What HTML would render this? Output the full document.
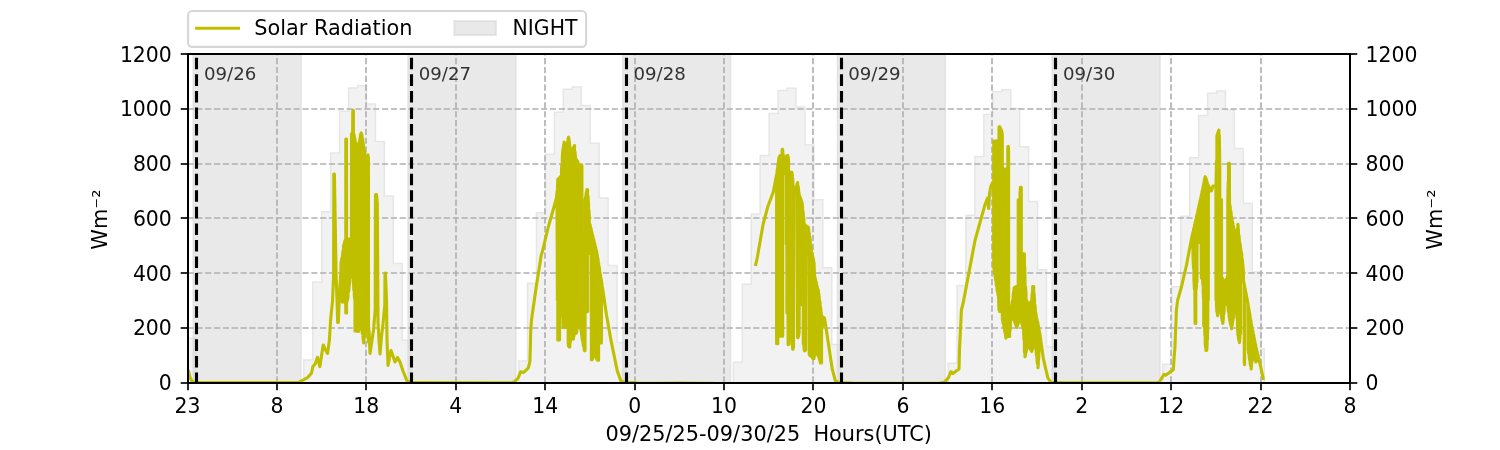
<!DOCTYPE html>
<html lang="en"><head><meta charset="utf-8"><title>Solar Radiation</title>
<style>html,body{margin:0;padding:0;background:#fff}body{width:1500px;height:450px;overflow:hidden}svg{display:block}</style>
</head><body>
<svg width="1500" height="450" viewBox="0 0 1500 450" font-family="'DejaVu Sans', 'Liberation Sans', sans-serif" font-size="20.4px" fill="#000">
<rect width="1500" height="450" fill="#fff"/>
<defs><clipPath id="ax"><rect x="187.5" y="54.0" width="1162.5" height="328.5"/></clipPath></defs>
<g clip-path="url(#ax)">
<path d="M184.50,385.5L184.50,338.15L196.45,338.15L196.45,385.5Z" fill="#f2f2f2" stroke="#e6e6e6" stroke-width="1.5"/>
<path d="M303.82,385.5L303.82,360.05L312.77,360.05L312.77,282.03L321.72,282.03L321.72,211.68L330.67,211.68L330.67,153.10L339.62,153.10L339.62,111.21L348.56,111.21L348.56,87.94L357.51,87.94L357.51,85.48L366.46,85.48L366.46,104.10L375.41,104.10L375.41,141.60L384.36,141.60L384.36,196.08L393.30,196.08L393.30,263.42L402.25,263.42L402.25,340.34L411.20,340.34L411.20,385.5Z" fill="#f2f2f2" stroke="#e6e6e6" stroke-width="1.5"/>
<path d="M518.58,385.5L518.58,361.11L527.52,361.11L527.52,283.20L536.47,283.20L536.47,212.84L545.42,212.84L545.42,154.26L554.37,154.26L554.37,112.31L563.32,112.31L563.32,89.25L572.26,89.25L572.26,86.88L581.21,86.88L581.21,105.60L590.16,105.60L590.16,143.31L599.11,143.31L599.11,197.92L608.06,197.92L608.06,265.54L617.00,265.54L617.00,342.46L625.95,342.46L625.95,385.5Z" fill="#f2f2f2" stroke="#e6e6e6" stroke-width="1.5"/>
<path d="M733.33,385.5L733.33,362.17L742.28,362.17L742.28,284.36L751.22,284.36L751.22,214.01L760.17,214.01L760.17,155.42L769.12,155.42L769.12,113.40L778.07,113.40L778.07,90.55L787.02,90.55L787.02,88.29L795.96,88.29L795.96,107.11L804.91,107.11L804.91,145.02L813.86,145.02L813.86,199.77L822.81,199.77L822.81,267.66L831.76,267.66L831.76,344.59L840.70,344.59L840.70,385.5Z" fill="#f2f2f2" stroke="#e6e6e6" stroke-width="1.5"/>
<path d="M948.08,385.5L948.08,363.23L957.03,363.23L957.03,285.52L965.98,285.52L965.98,215.17L974.92,215.17L974.92,156.59L983.87,156.59L983.87,114.50L992.82,114.50L992.82,91.85L1001.77,91.85L1001.77,89.69L1010.72,89.69L1010.72,108.61L1019.66,108.61L1019.66,146.73L1028.61,146.73L1028.61,201.62L1037.56,201.62L1037.56,269.78L1046.51,269.78L1046.51,346.71L1055.46,346.71L1055.46,385.5Z" fill="#f2f2f2" stroke="#e6e6e6" stroke-width="1.5"/>
<path d="M1162.83,385.5L1162.83,364.30L1171.78,364.30L1171.78,286.69L1180.73,286.69L1180.73,216.33L1189.68,216.33L1189.68,157.75L1198.62,157.75L1198.62,115.59L1207.57,115.59L1207.57,93.15L1216.52,93.15L1216.52,91.09L1225.47,91.09L1225.47,110.12L1234.42,110.12L1234.42,148.44L1243.36,148.44L1243.36,203.47L1252.31,203.47L1252.31,271.90L1261.26,271.90L1261.26,348.83L1264.30,348.83L1264.30,385.5Z" fill="#f2f2f2" stroke="#e6e6e6" stroke-width="1.5"/>
<rect x="193.20" y="49.0" width="107.90" height="338.5" fill="#d3d3d3" fill-opacity="0.5" stroke="#d3d3d3" stroke-opacity="0.5" stroke-width="1.5"/>
<rect x="407.95" y="49.0" width="107.90" height="338.5" fill="#d3d3d3" fill-opacity="0.5" stroke="#d3d3d3" stroke-opacity="0.5" stroke-width="1.5"/>
<rect x="622.70" y="49.0" width="107.90" height="338.5" fill="#d3d3d3" fill-opacity="0.5" stroke="#d3d3d3" stroke-opacity="0.5" stroke-width="1.5"/>
<rect x="837.45" y="49.0" width="107.90" height="338.5" fill="#d3d3d3" fill-opacity="0.5" stroke="#d3d3d3" stroke-opacity="0.5" stroke-width="1.5"/>
<rect x="1052.20" y="49.0" width="107.90" height="338.5" fill="#d3d3d3" fill-opacity="0.5" stroke="#d3d3d3" stroke-opacity="0.5" stroke-width="1.5"/>
<line x1="277.00" x2="277.00" y1="382.5" y2="54.0" stroke="#b0b0b0" stroke-width="1.67" stroke-dasharray="6.17 2.67"/>
<line x1="366.00" x2="366.00" y1="382.5" y2="54.0" stroke="#b0b0b0" stroke-width="1.67" stroke-dasharray="6.17 2.67"/>
<line x1="456.00" x2="456.00" y1="382.5" y2="54.0" stroke="#b0b0b0" stroke-width="1.67" stroke-dasharray="6.17 2.67"/>
<line x1="545.00" x2="545.00" y1="382.5" y2="54.0" stroke="#b0b0b0" stroke-width="1.67" stroke-dasharray="6.17 2.67"/>
<line x1="635.00" x2="635.00" y1="382.5" y2="54.0" stroke="#b0b0b0" stroke-width="1.67" stroke-dasharray="6.17 2.67"/>
<line x1="724.00" x2="724.00" y1="382.5" y2="54.0" stroke="#b0b0b0" stroke-width="1.67" stroke-dasharray="6.17 2.67"/>
<line x1="813.00" x2="813.00" y1="382.5" y2="54.0" stroke="#b0b0b0" stroke-width="1.67" stroke-dasharray="6.17 2.67"/>
<line x1="903.00" x2="903.00" y1="382.5" y2="54.0" stroke="#b0b0b0" stroke-width="1.67" stroke-dasharray="6.17 2.67"/>
<line x1="992.00" x2="992.00" y1="382.5" y2="54.0" stroke="#b0b0b0" stroke-width="1.67" stroke-dasharray="6.17 2.67"/>
<line x1="1082.00" x2="1082.00" y1="382.5" y2="54.0" stroke="#b0b0b0" stroke-width="1.67" stroke-dasharray="6.17 2.67"/>
<line x1="1171.00" x2="1171.00" y1="382.5" y2="54.0" stroke="#b0b0b0" stroke-width="1.67" stroke-dasharray="6.17 2.67"/>
<line x1="1261.00" x2="1261.00" y1="382.5" y2="54.0" stroke="#b0b0b0" stroke-width="1.67" stroke-dasharray="6.17 2.67"/>
<line x1="187.5" x2="1350.0" y1="328" y2="328" stroke="#b0b0b0" stroke-width="1.67" stroke-dasharray="6.17 2.67"/>
<line x1="187.5" x2="1350.0" y1="273" y2="273" stroke="#b0b0b0" stroke-width="1.67" stroke-dasharray="6.17 2.67"/>
<line x1="187.5" x2="1350.0" y1="218" y2="218" stroke="#b0b0b0" stroke-width="1.67" stroke-dasharray="6.17 2.67"/>
<line x1="187.5" x2="1350.0" y1="164" y2="164" stroke="#b0b0b0" stroke-width="1.67" stroke-dasharray="6.17 2.67"/>
<line x1="187.5" x2="1350.0" y1="109" y2="109" stroke="#b0b0b0" stroke-width="1.67" stroke-dasharray="6.17 2.67"/>
<path d="M187.5,369.0L189.0,372.5L190.0,377.5L191.5,380.5L194.0,382.3L200.0,382.6L296.0,382.5L299.0,382.2L302.0,380.6L307.7,377.5L311.6,373.0L312.8,366.7L315.4,363.5L317.5,357.3L319.8,366.7L323.2,345.0L325.0,349.0L327.6,353.4L329.4,340.0L330.6,320.0L332.5,301.7L333.6,275.0L333.8,174.0L334.4,174.0L336.1,275.0L337.0,300.0L337.7,322.5L338.3,322.5L339.0,305.0L340.0,285.0L340.9,272.0L341.0,262.0L341.0,300.0L341.5,300.7L341.5,260.0L342.0,258.0L342.0,301.3L342.5,302.0L342.5,256.0L343.0,251.0L343.0,302.0L343.5,302.0L343.5,246.0L344.0,244.2L344.0,302.0L344.5,302.0L344.5,242.5L345.0,240.8L345.0,302.0L345.5,302.0L345.5,239.0L345.7,239.0L345.7,302.0L345.8,313.0L345.8,139.0L346.1,139.0L346.1,313.0L346.5,313.0L346.5,139.0L346.6,239.0L346.6,302.0L347.1,301.0L347.1,239.0L347.5,239.0L347.5,300.0L348.0,296.0L348.0,239.0L348.5,239.0L348.5,292.0L349.0,288.0L349.0,239.0L349.4,239.0L349.4,284.7L349.8,281.3L349.8,239.0L350.2,239.0L350.2,278.0L350.6,275.3L350.6,239.0L351.0,239.0L351.0,272.7L351.4,270.0L351.4,239.0L351.5,133.5L351.5,268.0L351.9,266.2L351.9,133.5L352.2,133.5L352.2,264.5L352.6,268.0L352.6,133.0L352.8,110.5L352.8,272.0L353.1,276.0L353.1,110.5L353.4,110.5L353.4,280.0L353.8,290.0L353.8,134.0L354.3,136.0L354.3,295.0L354.8,300.0L354.8,138.0L355.0,141.0L355.0,331.0L355.5,331.0L355.5,142.2L356.0,143.5L356.0,331.0L356.5,331.1L356.5,143.9L357.0,144.3L357.0,331.2L357.5,331.3L357.5,144.7L358.0,145.1L358.0,331.4L358.5,331.5L358.5,145.5L359.0,143.2L359.0,329.8L359.5,328.0L359.5,141.0L359.9,138.7L359.9,327.3L360.3,326.7L360.3,136.3L360.7,134.0L360.7,326.0L361.0,326.0L361.0,133.5L361.3,133.0L361.3,326.0L361.6,328.0L361.6,134.0L362.0,135.0L362.0,330.0L362.5,334.0L362.5,138.5L363.0,142.0L363.0,338.0L363.3,340.5L363.3,144.0L363.6,146.0L363.6,343.0L363.9,340.5L363.9,148.0L364.2,150.0L364.2,338.0L364.6,335.0L364.6,153.0L364.9,156.8L364.9,331.5L365.2,328.0L365.2,160.5L365.6,160.5L365.6,327.3L365.9,326.7L365.9,160.5L366.3,160.5L366.3,326.0L366.6,326.5L366.6,158.8L367.0,157.0L367.0,327.0L367.5,331.0L367.5,156.0L368.0,155.0L368.0,335.0L368.4,340.0L368.4,157.0L368.5,300.0L368.5,342.0L369.0,330.0L370.0,353.5L371.0,347.0L372.0,340.0L373.5,330.0L375.2,310.0L375.5,194.5L376.5,194.5L377.3,203.0L377.6,250.0L378.0,322.0L379.0,340.0L380.0,354.0L381.5,336.0L383.0,324.0L384.8,305.0L385.0,273.0L385.4,273.0L386.5,300.0L387.0,340.0L388.0,365.5L389.5,358.0L391.0,350.5L393.0,356.0L395.0,362.0L397.5,357.5L400.0,362.0L403.0,371.0L407.0,381.0L411.0,382.5L420.0,382.5L508.0,382.7L512.0,382.5L514.3,381.8L518.2,378.0L520.6,371.8L523.7,372.5L528.3,367.9L529.9,361.7L530.4,345.0L530.7,330.6L531.5,320.0L532.2,315.0L536.1,287.7L541.1,256.0L541.6,253.8L542.3,252.0L548.0,228.0L554.8,204.0L556.5,198.0L557.0,192.0L557.4,300.0L557.4,190.0L557.8,179.0L557.8,339.9L558.2,339.9L558.2,178.9L558.6,178.7L558.6,339.9L559.0,339.9L559.0,178.6L559.4,178.1L559.4,339.9L559.5,339.9L559.5,177.9L559.8,177.5L559.8,315.5L560.2,315.5L560.2,177.0L560.4,176.5L560.4,315.5L560.8,315.5L560.8,176.2L561.2,176.0L561.2,315.5L561.5,315.5L561.5,170.5L561.8,165.0L561.8,315.5L562.3,315.5L562.3,157.5L562.8,150.0L562.8,315.5L563.1,326.6L563.1,148.3L563.1,148.0L563.1,326.8L563.5,327.5L563.5,146.0L563.8,144.1L563.8,327.5L564.1,327.5L564.1,142.1L564.6,143.4L564.6,327.5L565.0,327.5L565.0,144.7L565.5,146.0L565.5,327.5L565.9,327.5L565.9,146.5L566.2,147.0L566.2,327.5L566.6,327.5L566.6,146.5L567.0,146.0L567.0,327.5L567.4,327.7L567.4,143.7L567.7,141.3L567.7,327.8L568.1,328.0L568.1,139.0L568.2,138.0L568.2,344.0L568.5,346.0L568.5,137.1L568.9,139.1L568.9,346.4L569.2,346.9L569.2,141.0L569.5,143.5L569.5,346.9L569.8,346.9L569.8,146.0L570.1,147.5L570.1,343.4L570.5,340.0L570.5,149.0L571.0,149.2L571.0,339.0L571.5,338.0L571.5,149.5L572.0,149.2L572.0,338.0L572.5,338.0L572.5,149.0L573.0,148.5L573.0,338.6L573.4,339.2L573.4,148.0L573.8,147.0L573.8,336.6L574.3,334.0L574.3,146.0L574.5,145.5L574.5,334.0L575.0,333.8L575.0,151.8L575.5,158.0L575.5,333.5L576.0,333.2L576.0,159.0L576.5,160.0L576.5,332.9L576.9,330.4L576.9,160.5L577.3,161.0L577.3,328.0L577.8,327.0L577.8,161.5L578.2,164.2L578.2,326.9L578.6,326.7L578.6,167.0L579.0,167.8L579.0,326.7L579.3,326.7L579.3,168.5L579.8,168.2L579.8,327.4L580.3,328.0L580.3,168.0L580.8,165.4L580.8,329.0L581.2,331.3L581.2,165.4L581.5,165.4L581.5,333.7L581.9,336.0L581.9,165.4L582.0,265.0L582.0,338.0L582.5,340.7L582.5,265.0L583.0,265.0L583.0,343.3L583.5,346.0L583.5,265.0L584.0,265.0L584.0,348.4L584.5,350.8L584.5,265.0L585.0,265.0L585.0,350.8L585.1,311.8L585.1,200.0L585.5,197.4L585.5,311.8L586.0,311.8L586.0,194.8L586.4,192.1L586.4,311.8L586.8,311.8L586.8,189.5L587.1,189.5L587.1,311.8L587.4,311.8L587.4,189.5L587.5,189.5L587.5,253.5L588.0,253.5L588.0,196.0L588.5,203.0L588.5,253.5L588.9,253.5L588.9,210.0L589.3,217.0L589.3,253.5L589.8,253.5L589.8,224.0L590.3,226.0L590.3,253.5L590.8,253.5L590.8,228.0L591.1,229.0L591.1,311.8L591.3,311.8L591.3,230.0L591.4,230.4L591.4,359.8L591.7,359.8L591.7,231.6L592.0,232.8L592.0,359.8L592.5,358.6L592.5,234.8L593.0,236.8L593.0,357.5L593.5,356.3L593.5,238.9L594.0,240.9L594.0,355.2L594.5,354.0L594.5,242.9L595.0,244.8L595.0,355.0L595.4,356.0L595.4,246.6L595.9,248.5L595.9,357.0L596.3,358.0L596.3,250.3L596.8,252.2L596.8,359.0L597.1,359.6L597.1,254.3L597.5,256.5L597.5,360.2L597.9,360.2L597.9,258.8L598.2,261.1L598.2,360.2L598.6,360.2L598.6,263.4L598.7,264.0L598.7,343.0L599.2,343.0L599.2,266.8L599.6,269.6L599.6,343.0L600.0,343.0L600.0,272.4L600.5,275.2L600.5,343.0L601.0,343.0L601.0,278.0L601.4,280.8L601.4,343.0L601.5,300.0L601.5,281.4L602.0,284.6L602.0,297.0L602.5,294.0L602.5,287.8L603.0,291.0L606.5,315.0L611.2,341.4L617.3,371.0L620.9,381.0L624.5,382.5L632.0,382.5L640.0,383.3L660.0,383.2L680.0,383.1L700.0,383.2L714.0,383.4" fill="none" stroke="#bfbf00" stroke-width="3.125" stroke-linejoin="round" stroke-linecap="butt"/>
<path d="M755.4,266.0L757.2,258.0L763.1,224.2L768.0,206.0L773.2,192.3L775.0,183.0L776.5,175.0L776.6,174.5L776.6,343.8L777.0,343.8L777.0,172.0L777.4,169.0L777.4,343.8L777.8,343.8L777.8,166.0L778.2,163.0L778.2,336.1L778.6,336.1L778.6,160.2L779.0,157.5L779.0,336.1L779.5,336.1L779.5,156.6L780.0,155.7L780.0,336.1L780.5,336.1L780.5,155.7L780.9,155.7L780.9,336.1L781.3,336.1L781.3,155.7L781.8,155.7L781.8,336.1L782.1,336.1L782.1,149.4L782.6,149.4L782.6,336.1L782.7,336.1L782.7,150.5L782.8,151.6L782.8,244.5L782.9,173.5L782.9,152.7L783.2,156.0L783.2,173.5L783.3,173.5L783.3,156.1L783.7,156.6L783.7,173.5L784.2,173.5L784.2,157.0L784.6,157.5L784.6,173.5L785.1,173.5L785.1,157.2L785.5,156.8L785.5,173.5L786.0,173.5L786.0,156.5L786.4,156.2L786.4,244.5L786.4,244.5L786.4,156.2L786.9,155.9L786.9,244.5L786.9,313.0L786.9,155.9L787.3,155.6L787.3,313.0L787.7,313.0L787.7,155.3L788.0,156.0L788.0,313.0L788.1,344.6L788.1,156.5L788.5,160.0L788.5,344.6L789.0,344.0L789.0,172.4L789.5,172.4L789.5,339.0L790.0,334.0L790.0,172.4L790.5,172.4L790.5,329.0L791.0,332.7L791.0,172.4L791.4,172.4L791.4,336.3L791.9,340.0L791.9,172.4L792.3,175.2L792.3,344.6L792.7,349.3L792.7,178.0L793.0,185.5L793.0,349.3L793.5,347.1L793.5,187.1L793.5,187.3L793.5,346.9L794.0,194.5L794.0,188.7L794.5,188.7L794.5,194.5L795.0,194.5L795.0,188.7L795.5,188.7L795.5,194.5L796.0,194.5L796.0,187.3L796.5,186.0L796.5,194.5L796.9,194.5L796.9,184.8L797.2,183.7L797.2,194.5L797.5,336.8L797.5,183.0L797.6,182.5L797.6,337.6L798.1,337.6L798.1,186.0L798.5,189.0L798.5,336.1L798.8,334.5L798.8,192.0L799.1,194.2L799.1,333.4L799.2,304.5L799.2,195.0L799.7,196.2L799.7,304.5L800.2,304.5L800.2,197.5L800.7,198.8L800.7,304.5L801.2,304.5L801.2,200.0L801.6,201.2L801.6,304.5L802.0,304.5L802.0,202.4L802.5,206.8L802.5,304.5L803.0,304.5L803.0,211.1L803.3,214.2L803.3,343.6L803.4,344.5L803.4,215.5L803.9,219.8L803.9,347.6L804.4,350.8L804.4,224.2L804.8,224.6L804.8,350.8L805.1,350.8L805.1,225.0L805.6,225.4L805.6,350.1L805.6,350.1L805.6,225.4L806.0,225.8L806.0,253.5L806.5,253.5L806.5,226.1L807.0,226.5L807.0,253.5L807.4,253.5L807.4,226.8L807.9,227.0L807.9,253.5L808.3,253.5L808.3,227.3L808.8,230.4L808.8,253.5L809.2,354.5L809.2,232.9L809.3,233.6L809.3,354.7L809.8,355.5L809.8,236.7L810.3,240.4L810.3,355.8L810.7,356.1L810.7,244.1L811.2,247.9L811.2,356.4L811.6,356.7L811.6,251.6L812.1,255.3L812.1,357.0L812.5,357.8L812.5,256.1L812.9,257.0L812.9,358.6L813.3,358.6L813.3,258.7L813.6,260.3L813.6,358.6L814.0,358.6L814.0,262.0L814.5,275.2L814.5,356.0L815.0,355.4L815.0,277.3L815.5,279.5L815.5,354.8L816.0,354.2L816.0,281.6L816.5,283.7L816.5,353.6L817.0,353.0L817.0,285.9L817.5,288.0L817.5,352.4L818.0,354.2L818.0,289.4L818.4,290.8L818.4,356.0L818.8,357.4L818.8,294.0L819.2,297.3L819.2,358.8L819.7,360.2L819.7,300.5L820.1,303.8L820.1,361.6L820.5,363.0L820.5,307.0L820.8,309.5L820.8,363.0L821.1,363.0L821.1,312.0L821.5,315.7L821.5,363.0L821.6,330.0L821.6,316.0L822.1,316.3L822.1,328.0L822.6,326.0L822.6,316.7L823.0,317.0L823.0,324.0L823.5,322.0L823.5,317.3L824.0,317.7L824.0,320.0L824.5,318.0L827.6,338.3L832.3,369.4L835.4,381.0L839.0,382.5L852.0,383.0L900.0,383.2L940.0,383.0L943.0,382.6L944.8,382.0L948.3,377.8L951.0,371.6L952.8,373.4L959.0,369.0L959.5,349.4L960.8,322.8L961.4,310.0L963.4,302.0L975.1,240.0L984.8,205.3L987.5,198.0L988.7,208.5L989.5,193.0L991.0,186.0L992.5,183.0L993.6,181.0L993.7,268.0L993.7,141.0L994.2,141.0L994.2,271.0L994.6,274.0L994.6,141.0L995.1,141.0L995.1,277.0L995.6,280.0L995.6,141.0L996.1,141.0L996.1,283.0L996.5,286.0L996.5,141.0L997.0,141.0L997.0,289.0L997.4,291.1L997.4,141.0L997.8,141.0L997.8,293.2L998.2,295.4L998.2,141.0L998.6,141.0L998.6,297.5L999.0,310.0L999.0,127.0L999.5,126.6L999.5,311.5L1000.0,311.5L1000.0,127.3L1000.4,128.0L1000.4,311.5L1000.9,311.5L1000.9,129.2L1001.4,130.5L1001.4,311.5L1001.9,311.5L1001.9,131.7L1002.3,136.0L1002.3,311.5L1002.4,320.0L1002.4,169.0L1002.8,169.0L1002.8,322.0L1003.2,324.0L1003.2,169.0L1003.7,169.0L1003.7,326.0L1004.1,328.0L1004.1,169.0L1004.5,169.0L1004.5,330.0L1005.0,332.7L1005.0,169.0L1005.5,169.0L1005.5,335.4L1006.0,338.1L1006.0,169.0L1006.4,169.0L1006.4,336.1L1006.9,334.0L1006.9,169.0L1007.3,169.0L1007.3,332.0L1007.8,330.1L1007.8,146.5L1008.1,146.5L1008.1,331.1L1008.4,332.0L1008.4,146.5L1008.6,150.0L1008.6,336.4L1008.8,336.4L1008.8,306.0L1009.2,306.0L1009.2,336.4L1009.6,336.4L1009.6,306.0L1010.0,306.0L1010.0,331.1L1010.4,325.8L1010.4,306.0L1010.9,306.0L1010.9,320.6L1011.3,315.3L1011.3,306.0L1011.7,306.0L1011.7,310.0L1012.2,311.0L1012.2,303.0L1012.7,300.0L1012.7,312.0L1013.1,314.7L1013.1,296.0L1013.6,292.0L1013.6,317.3L1014.0,320.0L1014.0,288.0L1014.5,287.6L1014.5,321.2L1014.9,322.5L1014.9,287.2L1015.3,286.9L1015.3,323.8L1015.8,325.0L1015.8,286.5L1016.2,286.5L1016.2,326.2L1016.7,327.5L1016.7,286.5L1017.2,286.5L1017.2,326.3L1017.6,325.2L1017.6,286.5L1018.1,286.5L1018.1,324.0L1018.2,323.0L1018.2,199.8L1018.6,199.8L1018.6,321.8L1019.1,320.7L1019.1,199.8L1019.5,199.8L1019.5,319.5L1020.0,319.8L1020.0,193.6L1020.4,187.4L1020.4,320.0L1020.8,320.5L1020.8,187.4L1021.3,187.4L1021.3,321.0L1021.4,322.0L1021.4,253.9L1021.8,253.9L1021.8,323.6L1022.2,325.2L1022.2,253.9L1022.7,253.9L1022.7,326.8L1023.1,328.4L1023.1,253.9L1023.5,253.9L1023.5,330.0L1024.0,340.0L1024.0,253.9L1024.4,253.9L1024.4,350.0L1024.7,353.4L1024.7,266.9L1025.0,280.0L1025.0,356.8L1025.5,354.5L1025.5,286.7L1026.0,293.3L1026.0,352.3L1026.5,350.0L1026.5,300.0L1026.9,301.2L1026.9,348.9L1027.3,347.8L1027.3,302.4L1027.8,303.6L1027.8,346.6L1028.2,345.5L1028.2,304.8L1028.6,306.0L1028.6,344.4L1029.0,345.6L1029.0,305.3L1029.4,304.7L1029.4,346.8L1029.8,348.0L1029.8,304.0L1030.3,303.0L1030.3,348.9L1030.8,349.8L1030.8,302.0L1031.3,301.0L1031.3,350.6L1031.8,351.5L1031.8,300.0L1032.2,293.3L1032.2,349.8L1032.6,348.0L1032.6,286.6L1033.0,286.6L1033.0,346.0L1033.3,344.0L1033.3,286.6L1033.7,286.6L1033.7,342.0L1034.1,340.5L1034.1,293.3L1034.5,300.0L1034.5,339.0L1035.0,342.0L1035.0,305.1L1035.4,310.3L1035.4,345.0L1035.8,348.8L1035.8,312.7L1036.2,315.1L1036.2,352.5L1036.6,356.2L1036.6,317.6L1037.0,320.0L1037.0,360.0L1037.5,363.9L1037.5,322.0L1038.0,324.0L1038.0,367.8L1038.3,363.9L1038.3,325.6L1038.6,327.2L1038.6,360.0L1039.0,351.1L1039.0,329.3L1039.4,331.3L1039.4,342.3L1039.8,333.4L1043.3,358.3L1047.8,377.8L1051.0,382.4L1064.0,382.8L1155.0,382.8L1158.0,382.6L1159.3,382.0L1164.0,374.4L1165.6,375.2L1173.3,369.8L1174.1,358.0L1174.9,348.0L1176.4,310.1L1177.7,300.0L1181.1,288.3L1186.5,265.0L1192.0,236.2L1192.5,246.8L1192.5,234.2L1193.0,232.1L1193.0,257.5L1193.5,268.1L1193.5,230.1L1193.9,228.1L1193.9,278.7L1194.4,289.4L1194.4,226.0L1194.9,224.0L1194.9,300.0L1195.1,323.4L1195.1,223.0L1195.4,221.5L1195.4,323.4L1195.8,323.4L1195.8,220.0L1196.0,219.0L1196.0,290.0L1196.5,286.0L1196.5,216.8L1197.0,214.7L1197.0,282.0L1197.0,214.7L1197.5,212.5L1197.5,242.5L1197.9,242.5L1197.9,210.5L1198.4,208.5L1198.4,242.5L1198.8,242.5L1198.8,206.5L1199.3,204.5L1199.3,242.5L1199.7,242.5L1199.7,202.5L1200.2,200.5L1200.2,242.5L1200.6,242.5L1200.6,198.5L1201.1,196.4L1201.1,242.5L1201.4,278.0L1201.4,194.9L1201.5,194.2L1201.5,278.0L1202.0,278.0L1202.0,192.1L1202.5,190.0L1202.5,278.0L1202.9,285.3L1202.9,188.0L1203.2,186.0L1203.2,292.7L1203.6,300.0L1203.6,184.0L1203.7,183.5L1203.7,326.0L1204.2,326.5L1204.2,181.2L1204.6,179.0L1204.6,327.0L1204.9,335.5L1204.9,177.8L1205.2,176.7L1205.2,344.0L1205.6,347.2L1205.6,177.3L1205.9,178.0L1205.9,350.4L1206.3,350.4L1206.3,179.2L1206.7,180.5L1206.7,350.4L1207.1,345.2L1207.1,182.0L1207.4,183.5L1207.4,340.0L1207.8,320.0L1207.8,184.5L1208.3,185.5L1208.3,300.0L1208.4,190.0L1208.4,185.6L1208.9,186.5L1208.9,190.2L1209.4,190.3L1209.4,187.4L1209.9,188.3L1209.9,190.5L1210.4,190.7L1210.4,189.2L1210.9,190.1L1210.9,190.8L1211.4,191.0L1213.0,186.0L1215.9,186.5L1216.0,300.0L1216.0,186.0L1216.5,161.0L1216.5,306.0L1216.9,312.0L1216.9,136.0L1217.3,134.5L1217.3,313.8L1217.7,315.6L1217.7,133.0L1218.1,132.0L1218.1,313.7L1218.5,311.9L1218.5,131.1L1218.9,130.1L1218.9,310.0L1219.3,307.0L1219.3,135.0L1219.8,167.2L1219.8,305.4L1220.3,303.9L1220.3,199.5L1220.7,199.5L1220.7,307.6L1221.1,311.3L1221.1,199.5L1221.5,199.5L1221.5,315.0L1221.6,318.0L1221.6,277.0L1222.0,277.7L1222.0,319.8L1222.4,321.6L1222.4,278.3L1222.8,279.0L1222.8,323.4L1223.3,318.8L1223.3,279.8L1223.8,280.5L1223.8,314.2L1224.2,309.6L1224.2,281.2L1224.7,282.0L1224.7,305.0L1225.2,301.5L1225.2,281.3L1225.7,280.7L1225.7,298.0L1226.2,294.5L1226.2,280.0L1226.7,278.7L1226.7,298.0L1227.2,301.5L1227.2,277.3L1227.7,276.0L1227.7,305.0L1227.8,306.0L1227.8,200.0L1228.2,181.6L1228.2,309.0L1228.5,312.0L1228.5,163.2L1229.0,163.2L1229.0,315.0L1229.4,318.0L1229.4,163.2L1229.5,202.5L1229.5,319.0L1229.9,321.0L1229.9,205.3L1230.3,208.2L1230.3,322.9L1230.8,324.9L1230.8,211.0L1231.2,213.9L1231.2,326.8L1231.6,328.8L1231.6,216.7L1232.0,219.0L1232.0,326.1L1232.4,323.4L1232.4,221.3L1232.9,223.6L1232.9,320.7L1233.3,318.0L1233.3,225.9L1233.7,227.9L1233.7,313.7L1234.2,309.3L1234.2,230.0L1234.6,232.0L1234.6,305.0L1235.1,303.3L1235.1,235.5L1235.5,239.0L1235.5,301.7L1236.0,300.0L1236.0,242.5L1236.5,237.2L1236.5,309.0L1236.9,318.0L1236.9,232.0L1237.4,228.2L1237.4,326.5L1237.9,335.0L1237.9,224.4L1238.4,230.5L1238.4,338.0L1238.9,340.3L1238.9,235.2L1239.4,240.0L1239.4,342.6L1239.9,338.5L1239.9,243.0L1240.4,246.0L1240.4,334.4L1240.7,331.4L1240.7,248.1L1240.8,248.9L1240.8,260.5L1241.3,260.5L1241.3,251.9L1241.8,254.9L1241.8,260.5L1242.2,260.5L1242.2,258.8L1242.6,262.6L1243.0,266.5L1243.4,270.4L1243.5,280.6L1243.9,282.4L1244.2,284.2L1244.3,284.5L1244.3,362.4L1244.6,364.7L1244.6,285.8L1244.6,286.0L1244.6,299.5L1245.0,299.5L1245.0,288.2L1245.5,290.5L1245.5,299.5L1246.0,299.5L1246.0,292.8L1246.4,295.0L1246.4,299.5L1246.8,299.5L1246.8,297.2L1247.2,299.4L1247.2,299.5L1247.6,301.7L1248.0,303.9L1248.2,349.9L1248.2,305.3L1248.4,306.2L1248.4,351.0L1248.8,354.0L1248.8,308.4L1249.2,310.7L1249.2,357.0L1249.6,360.0L1249.6,313.0L1250.1,316.0L1250.1,363.0L1250.6,366.0L1250.6,319.0L1251.1,322.0L1251.1,369.0L1251.5,365.5L1251.5,324.6L1251.9,327.2L1251.9,362.0L1252.4,357.8L1252.4,329.5L1252.9,331.7L1252.9,353.7L1253.4,349.5L1253.4,334.0L1253.9,336.3L1253.9,352.3L1254.3,355.2L1254.3,338.7L1254.8,341.0L1254.8,358.0L1255.3,360.0L1255.3,343.5L1255.8,346.0L1255.8,362.0L1256.2,361.5L1256.2,347.8L1256.6,349.5L1256.6,361.0L1257.0,360.5L1257.0,351.2L1257.4,353.0L1257.4,360.0L1257.9,359.6L1257.9,355.0L1258.4,356.9L1258.4,359.3L1258.9,358.9L1263.5,379.9" fill="none" stroke="#bfbf00" stroke-width="3.125" stroke-linejoin="round" stroke-linecap="butt"/>
<line x1="196.50" x2="196.50" y1="382.5" y2="54.0" stroke="#000" stroke-width="3.125" stroke-dasharray="11.56 5" stroke-dashoffset="1.5"/>
<line x1="411.50" x2="411.50" y1="382.5" y2="54.0" stroke="#000" stroke-width="3.125" stroke-dasharray="11.56 5" stroke-dashoffset="1.5"/>
<line x1="626.50" x2="626.50" y1="382.5" y2="54.0" stroke="#000" stroke-width="3.125" stroke-dasharray="11.56 5" stroke-dashoffset="1.5"/>
<line x1="841.50" x2="841.50" y1="382.5" y2="54.0" stroke="#000" stroke-width="3.125" stroke-dasharray="11.56 5" stroke-dashoffset="1.5"/>
<line x1="1055.50" x2="1055.50" y1="382.5" y2="54.0" stroke="#000" stroke-width="3.125" stroke-dasharray="11.56 5" stroke-dashoffset="1.5"/>
</g>
<text x="203.95" y="80.4" font-size="18.2px" fill="#333">09/26</text>
<text x="418.70" y="80.4" font-size="18.2px" fill="#333">09/27</text>
<text x="633.45" y="80.4" font-size="18.2px" fill="#333">09/28</text>
<text x="848.20" y="80.4" font-size="18.2px" fill="#333">09/29</text>
<text x="1062.95" y="80.4" font-size="18.2px" fill="#333">09/30</text>
<rect x="188" y="54" width="1162" height="329" fill="none" stroke="#000" stroke-width="2"/>
<line x1="188" x2="188" y1="383" y2="390.3" stroke="#000" stroke-width="1.67"/>
<text x="187.50" y="412.6" text-anchor="middle">23</text>
<line x1="277" x2="277" y1="383" y2="390.3" stroke="#000" stroke-width="1.67"/>
<text x="276.92" y="412.6" text-anchor="middle">8</text>
<line x1="366" x2="366" y1="383" y2="390.3" stroke="#000" stroke-width="1.67"/>
<text x="366.35" y="412.6" text-anchor="middle">18</text>
<line x1="456" x2="456" y1="383" y2="390.3" stroke="#000" stroke-width="1.67"/>
<text x="455.77" y="412.6" text-anchor="middle">4</text>
<line x1="545" x2="545" y1="383" y2="390.3" stroke="#000" stroke-width="1.67"/>
<text x="545.19" y="412.6" text-anchor="middle">14</text>
<line x1="635" x2="635" y1="383" y2="390.3" stroke="#000" stroke-width="1.67"/>
<text x="634.62" y="412.6" text-anchor="middle">0</text>
<line x1="724" x2="724" y1="383" y2="390.3" stroke="#000" stroke-width="1.67"/>
<text x="724.04" y="412.6" text-anchor="middle">10</text>
<line x1="813" x2="813" y1="383" y2="390.3" stroke="#000" stroke-width="1.67"/>
<text x="813.46" y="412.6" text-anchor="middle">20</text>
<line x1="903" x2="903" y1="383" y2="390.3" stroke="#000" stroke-width="1.67"/>
<text x="902.88" y="412.6" text-anchor="middle">6</text>
<line x1="992" x2="992" y1="383" y2="390.3" stroke="#000" stroke-width="1.67"/>
<text x="992.31" y="412.6" text-anchor="middle">16</text>
<line x1="1082" x2="1082" y1="383" y2="390.3" stroke="#000" stroke-width="1.67"/>
<text x="1081.73" y="412.6" text-anchor="middle">2</text>
<line x1="1171" x2="1171" y1="383" y2="390.3" stroke="#000" stroke-width="1.67"/>
<text x="1171.15" y="412.6" text-anchor="middle">12</text>
<line x1="1261" x2="1261" y1="383" y2="390.3" stroke="#000" stroke-width="1.67"/>
<text x="1260.58" y="412.6" text-anchor="middle">22</text>
<line x1="1350" x2="1350" y1="383" y2="390.3" stroke="#000" stroke-width="1.67"/>
<text x="1350.00" y="412.6" text-anchor="middle">8</text>
<line x1="180.7" x2="188" y1="383" y2="383" stroke="#000" stroke-width="1.67"/>
<line x1="1350" x2="1357.3" y1="383" y2="383" stroke="#000" stroke-width="1.67"/>
<text x="171.8" y="390.10" text-anchor="end">0</text>
<text x="1365.5" y="390.10">0</text>
<line x1="180.7" x2="188" y1="328" y2="328" stroke="#000" stroke-width="1.67"/>
<line x1="1350" x2="1357.3" y1="328" y2="328" stroke="#000" stroke-width="1.67"/>
<text x="171.8" y="335.35" text-anchor="end">200</text>
<text x="1365.5" y="335.35">200</text>
<line x1="180.7" x2="188" y1="273" y2="273" stroke="#000" stroke-width="1.67"/>
<line x1="1350" x2="1357.3" y1="273" y2="273" stroke="#000" stroke-width="1.67"/>
<text x="171.8" y="280.60" text-anchor="end">400</text>
<text x="1365.5" y="280.60">400</text>
<line x1="180.7" x2="188" y1="218" y2="218" stroke="#000" stroke-width="1.67"/>
<line x1="1350" x2="1357.3" y1="218" y2="218" stroke="#000" stroke-width="1.67"/>
<text x="171.8" y="225.85" text-anchor="end">600</text>
<text x="1365.5" y="225.85">600</text>
<line x1="180.7" x2="188" y1="164" y2="164" stroke="#000" stroke-width="1.67"/>
<line x1="1350" x2="1357.3" y1="164" y2="164" stroke="#000" stroke-width="1.67"/>
<text x="171.8" y="171.10" text-anchor="end">800</text>
<text x="1365.5" y="171.10">800</text>
<line x1="180.7" x2="188" y1="109" y2="109" stroke="#000" stroke-width="1.67"/>
<line x1="1350" x2="1357.3" y1="109" y2="109" stroke="#000" stroke-width="1.67"/>
<text x="171.8" y="116.35" text-anchor="end">1000</text>
<text x="1365.5" y="116.35">1000</text>
<line x1="180.7" x2="188" y1="54" y2="54" stroke="#000" stroke-width="1.67"/>
<line x1="1350" x2="1357.3" y1="54" y2="54" stroke="#000" stroke-width="1.67"/>
<text x="171.8" y="61.60" text-anchor="end">1200</text>
<text x="1365.5" y="61.60">1200</text>
<text x="768.75" y="440.7" text-anchor="middle" font-size="20.83px" xml:space="preserve" style="white-space:pre">09/25/25-09/30/25  Hours(UTC)</text>
<text transform="translate(107.1,219.6) rotate(-90)" text-anchor="middle" font-size="20.83px">Wm⁻²</text>
<text transform="translate(1442.2,219.6) rotate(-90)" text-anchor="middle" font-size="20.83px">Wm⁻²</text>
<rect x="188.1" y="11" width="398" height="35.9" rx="4.2" fill="#fff" fill-opacity="0.8" stroke="#ccc" stroke-opacity="0.8" stroke-width="2.08"/>
<line x1="195.1" x2="240" y1="28.2" y2="28.2" stroke="#bfbf00" stroke-width="3.125"/>
<text x="254.3" y="35.2" font-size="20.83px">Solar Radiation</text>
<rect x="454.3" y="21.1" width="41.67" height="14.0" fill="#d3d3d3" fill-opacity="0.5" stroke="#d3d3d3" stroke-opacity="0.5" stroke-width="2.08"/>
<text x="512.6" y="35.2">NIGHT</text>
</svg>
</body></html>
